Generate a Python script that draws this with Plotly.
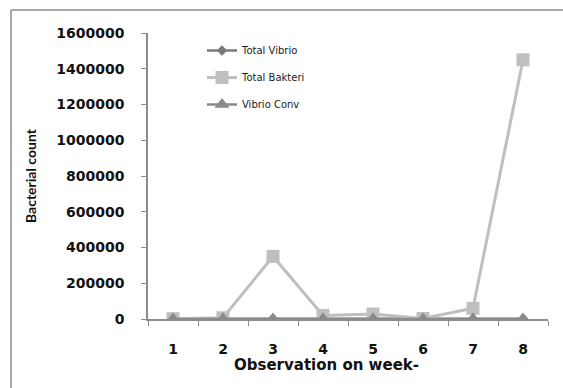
import plotly.graph_objects as go

# Weekly observations
weeks = ["1", "2", "3", "4", "5", "6", "7", "8"]
total_vibrio = [1500, 2000, 1000, 3000, 2500, 1000, 2000, 1500]
total_bakteri = [2000, 7000, 350000, 20000, 28000, 3000, 60000, 1450000]
vibrio_conv = [500, 800, 400, 1200, 900, 300, 700, 500]

y_ticks = [0, 200000, 400000, 600000, 800000, 1000000, 1200000, 1400000, 1600000]

W, H = 563, 388
L, R, T, B = 148, 15, 33, 69
pw, ph = W - L - R, H - T - B


def px(x):
    return (x - L) / pw


def py(y):
    return (H - B - y) / ph


fig = go.Figure()
fig.add_trace(go.Scatter(
    x=weeks, y=total_vibrio, name="Total Vibrio", mode="lines+markers",
    line=dict(color="#7a7a7a", width=2.5),
    marker=dict(symbol="diamond", size=8, color="#7a7a7a"),
    legendgroup="a",
))
fig.add_trace(go.Scatter(
    x=weeks, y=total_bakteri, name="Total Bakteri", mode="lines+markers",
    line=dict(color="#bfbfbf", width=3),
    marker=dict(symbol="square", size=13, color="#bfbfbf"),
    legendgroup="b",
))
fig.add_trace(go.Scatter(
    x=weeks, y=vibrio_conv, name="Vibrio Conv", mode="lines+markers",
    line=dict(color="#8a8a8a", width=2.5),
    marker=dict(symbol="triangle-up", size=13, color="#8a8a8a"),
    legendgroup="c",
))

tick_font = dict(family="DejaVu Sans", size=14, color="#111111")

fig.update_layout(
    width=W, height=H,
    margin=dict(l=L, r=R, t=T, b=B),
    paper_bgcolor="white", plot_bgcolor="white",
    showlegend=True,
    legend=dict(
        x=px(202), y=py(36), xanchor="left", yanchor="top",
        bgcolor="rgba(0,0,0,0)", tracegroupgap=8,
        font=dict(family="DejaVu Sans", size=10, color="#222222"),
    ),
    xaxis=dict(
        type="category", range=[-0.5, 7.5],
        tickvals=weeks, ticktext=["<b>%s</b>" % w for w in weeks],
        showgrid=False, zeroline=False,
        showline=True, linecolor="#8c8c8c", linewidth=1.5,
        ticks="outside", tickson="boundaries", ticklen=5, tickcolor="#8c8c8c",
        tickfont=tick_font, ticklabelstandoff=16,
    ),
    yaxis=dict(
        range=[0, 1600000], tickvals=y_ticks,
        ticktext=["<b>%d</b>" % v for v in y_ticks],
        showgrid=False, zeroline=False,
        showline=True, linecolor="#8c8c8c", linewidth=1.5,
        ticks="outside", ticklen=5, tickcolor="#8c8c8c",
        tickfont=tick_font, ticklabelstandoff=14,
    ),
    annotations=[
        dict(text="<b>Bacterial count</b>", x=px(30), y=py(176),
             xref="paper", yref="paper", showarrow=False, textangle=-90,
             xanchor="center", yanchor="middle",
             font=dict(family="Lato", size=14, color="#111111")),
        dict(text="<b>Observation on week-</b>", x=px(326), y=py(365),
             xref="paper", yref="paper", showarrow=False,
             xanchor="center", yanchor="middle",
             font=dict(family="DejaVu Sans", size=15, color="#111111")),
    ],
    shapes=[
        dict(type="line", xref="paper", yref="paper",
             x0=px(11), x1=px(W + 5), y0=py(10), y1=py(10),
             line=dict(color="#8c8c8c", width=1.5)),
        dict(type="line", xref="paper", yref="paper",
             x0=px(11), x1=px(11), y0=py(10), y1=py(H + 5),
             line=dict(color="#8c8c8c", width=1.5)),
    ],
)

fig.write_html("out.html")
